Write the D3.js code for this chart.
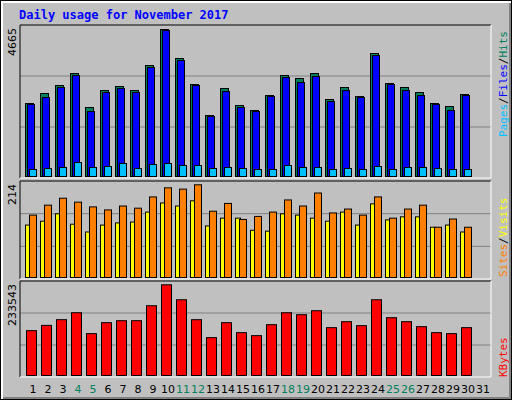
<!DOCTYPE html>
<html lang="en">
<head>
<meta charset="UTF-8">
<title>Daily usage for November 2017</title>
<script src="https://d3js.org/d3.v7.min.js"></script>
<style>
    body { margin: 0; background: white; }
    text { font-family: "DejaVu Sans", sans-serif; }
</style>
</head>
<body>
<svg id="chart"></svg>
<script>
// data
const days = d3.range(1, 32);
const weekends = [4, 5, 11, 12, 18, 19, 25, 26];
const hits   = [2316,2634,2888,3268,2189,2729,2856,2729,3522,4665,3744,2919,1936,2792,2253,2094,2570,3205,3110,3268,2443,2824,2538,3903,2951,2824,2665,2316,2221,2602];
const files  = [2285,2507,2824,3205,2062,2665,2792,2665,3459,4633,3681,2887,1904,2697,2189,2062,2538,3141,2983,3173,2380,2729,2507,3839,2919,2729,2570,2285,2094,2570];
const pages  = [222,254,286,444,286,317,412,254,381,412,349,349,254,286,254,222,222,349,286,286,222,254,222,317,222,286,286,254,222,222];
const sites  = [144,167,183,174,163,156,165,160,186,207,204,214,153,171,134,141,151,179,165,195,149,158,144,186,137,158,167,116,135,116];
const visits = [121,130,147,123,105,121,126,128,151,172,165,177,119,137,137,109,107,147,144,137,130,151,121,170,133,140,140,116,121,105];
const kbytes = [115470,129070,143700,161660,107770,136000,141130,141130,179620,233543,195020,143700,97510,136000,110340,102640,130870,161660,156530,166790,123170,138560,128300,195020,148830,138560,125730,110340,107770,123170];

const W = 512, H = 400;
const svg = d3.select("#chart").attr("width", W).attr("height", H);

// background + 3d border
svg.append("rect").attr("width", W).attr("height", H).attr("fill", "#000");
svg.append("rect").attr("x", 1).attr("y", 1).attr("width", W - 2).attr("height", H - 2).attr("fill", "#fff");
svg.append("rect").attr("x", 3).attr("y", 3).attr("width", W - 4).attr("height", H - 4).attr("fill", "#808080");
svg.append("rect").attr("x", 3).attr("y", 3).attr("width", W - 6).attr("height", H - 6).attr("fill", "#c0c0c0");

svg.append("text").attr("x", 19).attr("y", 19)
    .attr("font-family", "DejaVu Sans Mono").attr("font-weight", "bold").attr("font-size", 12)
    .attr("fill", "#0000ff").style("font-family", "'DejaVu Sans Mono', monospace")
    .text("Daily usage for November 2017");

const x = d3.scaleBand().domain(days).range([25, 490]).paddingInner(0);
const plotL = 20, plotR = 491;

// panels: top, bottom, y of max bar top
const panels = [
    {top: 25,  bot: 178, maxY: 29,    max: 4665,   label: "4665"},
    {top: 181, bot: 279, maxY: 184.3, max: 214,    label: "214"},
    {top: 281, bot: 377, maxY: 284.3, max: 233543, label: "233543"}
];

panels.forEach(p => {
    const g = svg.append("g");
    g.append("rect").attr("x", plotL).attr("y", p.top).attr("width", plotR - plotL).attr("height", p.bot - p.top)
        .attr("fill", "#c0c0c0");
    [1, 2].forEach(k => {
        const yy = p.top + (p.bot - p.top) * k / 3;
        g.append("line").attr("x1", plotL).attr("x2", plotR).attr("y1", yy).attr("y2", yy)
            .attr("stroke", "#808080").attr("stroke-width", 1);
    });
    g.append("path").attr("d", `M${plotL},${p.bot}V${p.top}H${plotR}`).attr("fill", "none").attr("stroke", "#000");
    g.append("path").attr("d", `M${plotR},${p.top}V${p.bot}H${plotL}`).attr("fill", "none").attr("stroke", "#fff");
    p.y = d3.scaleLinear().domain([0, p.max]).range([p.bot - 2, p.maxY]);
    svg.append("text")
        .attr("transform", `translate(16,${p.top + 3}) rotate(-90)`)
        .attr("text-anchor", "end").attr("font-size", 11).attr("fill", "#000")
        .text(p.label);
});

function bars(data, panel, dx, w, fill) {
    const y = panels[panel].y;
    svg.append("g").selectAll("rect").data(data).join("rect")
        .attr("x", (d, i) => x(days[i]) + dx + 0.5)
        .attr("y", d => y(d) + 0.5)
        .attr("width", w)
        .attr("height", d => y(0) - y(d))
        .attr("fill", fill).attr("stroke", "#000").attr("stroke-width", 1);
}

bars(hits, 0, 0, 8, "#00805c");
bars(files, 0, 2, 7, "#0000ff");
bars(pages, 0, 4, 7, "#00c0ff");
bars(visits, 1, 0, 5, "#ffff00");
bars(sites, 1, 4, 7, "#ff8000");
bars(kbytes, 2, 1, 10, "#ff0000");

// day labels
svg.append("g").selectAll("text").data(days).join("text")
    .attr("x", d => x(d) + 8).attr("y", 393)
    .attr("text-anchor", "middle").attr("font-size", 11)
    .attr("fill", d => weekends.includes(d) ? "#00805c" : "#000")
    .text(d => d);

// right legends
function legend(parts, yStart) {
    const t = svg.append("text")
        .attr("transform", `translate(507,${yStart}) rotate(-90)`)
        .attr("font-size", 11).style("font-family", "'DejaVu Sans Mono', monospace");
    parts.forEach(([s, c]) => t.append("tspan").attr("fill", c).text(s));
}
legend([["Pages", "#00c0ff"], ["/", "#000"], ["Files", "#0000ff"], ["/", "#000"], ["Hits", "#00805c"]], 137);
legend([["Sites", "#ff8000"], ["/", "#000"], ["Visits", "#ffff00"]], 277);
legend([["KBytes", "#ff0000"]], 377);
</script>
</body>
</html>
